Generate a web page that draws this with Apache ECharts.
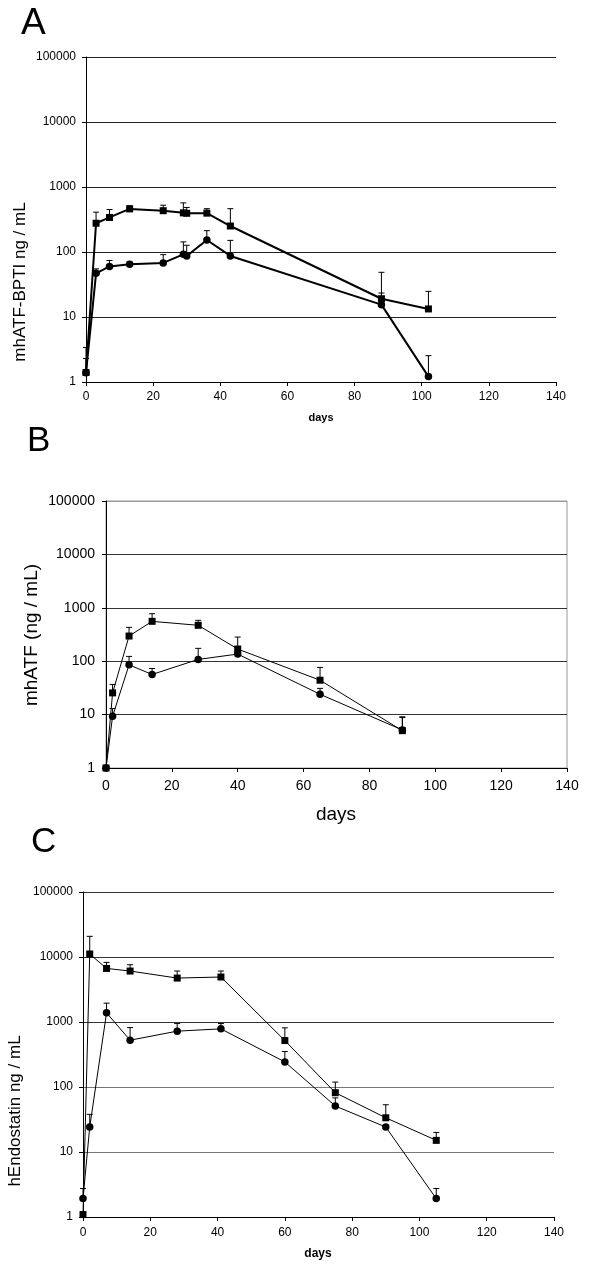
<!DOCTYPE html>
<html>
<head>
<meta charset="utf-8">
<script src="https://cdn.jsdelivr.net/npm/echarts@6/dist/echarts.min.js"></script>
<style>
html,body{margin:0;padding:0;background:#fff;}
#chart{width:600px;height:1275px;}
</style>
</head>
<body>
<div id="chart"></div>
<script>
// ---- Data ----
const xTicks = [0, 20, 40, 60, 80, 100, 120, 140];
const yTickLabels = ['1', '10', '100', '1000', '10000', '100000'];

// Panel A: mhATF-BPTI
const daysA = [0, 3, 7, 13, 23, 29, 30, 36, 43, 88, 102];
const valA_sq = [1.4, 277, 340, 460, 432, 400, 394, 396, 251, 19.1, 13.3];
const errA_sq = [3.4, 410, 450, 515, 525, 570, 485, 464, 464, 48.7, 24.8];
const valA_ci = [1.39, 47, 60, 65, 68, 92, 87, 153, 87, 15.5, 1.21];
const errA_ci = [2.3, 55, 74, 70, 91, 143, 127, 213, 151, 23.4, 2.54];

// Panel B: mhATF
const daysB = [0, 2, 7, 14, 28, 40, 65, 90];
const valB_sq = [1, 25.5, 296, 558, 470, 169, 44, 5.0];
const errB_sq = [null, 36.7, 430, 775, 582, 283, 76.5, 9.1];
const valB_ci = [1, 9.3, 85.5, 56.5, 108, 136, 24, 5.15];
const errB_ci = [null, 13, 123, 73, 174, 150, 31, 8.8];

// Panel C: hEndostatin
const daysC = [0, 2, 7, 14, 28, 41, 60, 75, 90, 105];
const valC_sq = [1.09, 11120, 6670, 6080, 4740, 4920, 518, 81.7, 33.6, 15.1];
const errC_sq = [null, 20800, 8260, 7600, 6080, 6080, 813, 119, 53.3, 20];
const valC_ci = [1.92, 24.2, 1383, 525, 723, 784, 243, 51, 24.2, 1.92];
const errC_ci = [2.74, 37.9, 1950, 821, 946, 946, 351, 68, null, 2.74];

// ---- Helpers ----
const FONT = "'Liberation Sans', Arial, sans-serif";
function pairs(xs, ys) { return xs.map((x, i) => [x, ys[i]]); }
function errData(xs, ys, es) {
  const out = [];
  xs.forEach((x, i) => { if (es[i] != null) out.push([x, ys[i], es[i]]); });
  return out;
}
function errRender(params, api) {
  const p = api.coord([api.value(0), api.value(1)]);
  const q = api.coord([api.value(0), api.value(2)]);
  return {
    type: 'group',
    children: [
      { type: 'line', shape: { x1: p[0], y1: p[1], x2: q[0], y2: q[1] }, style: { stroke: '#000', lineWidth: 1 } },
      { type: 'line', shape: { x1: q[0] - 3, y1: q[1], x2: q[0] + 3, y2: q[1] }, style: { stroke: '#000', lineWidth: 1 } }
    ]
  };
}
function xAxisDef(idx, fs, margin) {
  return {
    type: 'value', gridIndex: idx, min: 0, max: 140, interval: 20,
    axisLine: { lineStyle: { color: '#000', width: 1 } },
    axisTick: { show: true, inside: false, length: 4, lineStyle: { color: '#000' } },
    axisLabel: { color: '#000', fontSize: fs, fontFamily: FONT, margin: margin,
      formatter: v => xTicks.indexOf(v) >= 0 ? String(v) : '' },
    splitLine: { show: false }
  };
}
function yAxisDef(idx, fs, margin, colors) {
  return {
    type: 'log', logBase: 10, gridIndex: idx, min: 1, max: 100000,
    axisLine: { show: true, onZero: false, lineStyle: { color: '#000', width: 1 } },
    axisTick: { show: true, inside: false, length: 4, lineStyle: { color: '#000' } },
    axisLabel: { color: '#000', fontSize: fs, fontFamily: FONT, margin: margin,
      formatter: v => yTickLabels[Math.round(Math.log10(v))] },
    splitLine: { show: true, lineStyle: { color: colors, width: 1 } },
    minorTick: { show: false }
  };
}
function lineSeries(idx, data, symbol, lw) {
  return {
    type: 'line', xAxisIndex: idx, yAxisIndex: idx, data: data,
    symbol: symbol, symbolSize: symbol === 'rect' ? 7 : 7.5, showSymbol: true,
    lineStyle: { color: '#000', width: lw }, itemStyle: { color: '#000' },
    z: 5, animation: false, silent: true
  };
}
function errSeries(idx, data) {
  return {
    type: 'custom', xAxisIndex: idx, yAxisIndex: idx, data: data,
    renderItem: errRender, encode: { x: 0, y: [1, 2] }, z: 3, animation: false, silent: true
  };
}

const chart = echarts.init(document.getElementById('chart'), null, { renderer: 'canvas', width: 600, height: 1275 });

const option = {
  backgroundColor: '#fff',
  animation: false,
  grid: [
    { left: 86, top: 57, width: 470, height: 325 },
    { left: 106, top: 501, width: 461, height: 267, show: true, borderColor: '#999', borderWidth: 1, backgroundColor: 'transparent' },
    { left: 83, top: 892, width: 471, height: 325 }
  ],
  xAxis: [
    xAxisDef(0, 12, 9),
    xAxisDef(1, 14, 11),
    xAxisDef(2, 12, 10)
  ],
  yAxis: [
    yAxisDef(0, 12, 10, ['#222', '#222', '#222', '#222', '#222', '#222']),
    yAxisDef(1, 14, 11, ['#222', '#333', '#333', '#333', '#333', '#999']),
    yAxisDef(2, 12, 10, ['#222', '#777', '#777', '#333', '#333', '#333'])
  ],
  series: [
    errSeries(0, errData(daysA, valA_sq, errA_sq)),
    errSeries(0, errData(daysA, valA_ci, errA_ci)),
    lineSeries(0, pairs(daysA, valA_sq), 'rect', 2),
    lineSeries(0, pairs(daysA, valA_ci), 'circle', 2),

    errSeries(1, errData(daysB, valB_sq, errB_sq)),
    errSeries(1, errData(daysB, valB_ci, errB_ci)),
    lineSeries(1, pairs(daysB, valB_sq), 'rect', 1),
    lineSeries(1, pairs(daysB, valB_ci), 'circle', 1),

    errSeries(2, errData(daysC, valC_sq, errC_sq)),
    errSeries(2, errData(daysC, valC_ci, errC_ci)),
    lineSeries(2, pairs(daysC, valC_sq), 'rect', 1),
    lineSeries(2, pairs(daysC, valC_ci), 'circle', 1)
  ],
  graphic: [
    { type: 'text', x: 21, y: 24, style: { text: 'A', font: '37px ' + FONT, fill: '#000', align: 'left', verticalAlign: 'middle' } },
    { type: 'text', x: 27, y: 441, style: { text: 'B', font: '35px ' + FONT, fill: '#000', align: 'left', verticalAlign: 'middle' } },
    { type: 'text', x: 31, y: 842, style: { text: 'C', font: '35px ' + FONT, fill: '#000', align: 'left', verticalAlign: 'middle' } },

    { type: 'text', x: 20, y: 282, rotation: Math.PI / 2, style: { text: 'mhATF-BPTI ng / mL', font: '17px ' + FONT, fill: '#000', align: 'center', verticalAlign: 'middle' } },
    { type: 'text', x: 32, y: 635, rotation: Math.PI / 2, style: { text: 'mhATF (ng / mL)', font: '19px ' + FONT, fill: '#000', align: 'center', verticalAlign: 'middle' } },
    { type: 'text', x: 15, y: 1111, rotation: Math.PI / 2, style: { text: 'hEndostatin ng / mL', font: '17px ' + FONT, fill: '#000', align: 'center', verticalAlign: 'middle' } },

    { type: 'text', x: 321, y: 418, style: { text: 'days', font: 'bold 11px ' + FONT, fill: '#000', align: 'center', verticalAlign: 'middle' } },
    { type: 'text', x: 336, y: 815, style: { text: 'days', font: '19px ' + FONT, fill: '#000', align: 'center', verticalAlign: 'middle' } },
    { type: 'text', x: 318, y: 1254, style: { text: 'days', font: 'bold 12px ' + FONT, fill: '#000', align: 'center', verticalAlign: 'middle' } }
  ]
};
chart.setOption(option);
</script>
</body>
</html>
